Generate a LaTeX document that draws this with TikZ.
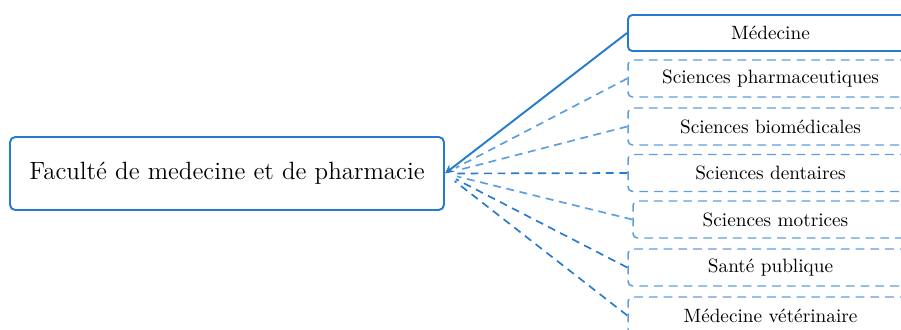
\documentclass[tikz,border=0pt]{standalone}
\usepackage{tikz}
\usetikzlibrary{arrows.meta}
\definecolor{lineBlue}{RGB}{38,124,204}
\definecolor{dashBlue}{RGB}{92,158,222}
\newcommand{\bigtxt}{\fontsize{14.2}{16}\selectfont}
\newcommand{\smalltxt}{\fontsize{10.95}{12}\selectfont}
\tikzset{
  mainbox/.style={draw=lineBlue, line width=1.1pt, rounded corners=3pt,
    minimum width=8.68cm, minimum height=1.46cm, inner sep=0pt, font=\bigtxt},
  solidbox/.style={draw=lineBlue, line width=1.1pt, rounded corners=2.5pt,
    minimum width=5.7cm, minimum height=0.72cm, inner sep=0pt, font=\smalltxt},
  dashbox/.style={draw=dashBlue, line width=0.85pt, rounded corners=2.5pt,
    dash pattern=on 5pt off 3.4pt,
    minimum width=5.7cm, minimum height=0.74cm, inner sep=0pt, font=\smalltxt},
  dashlink/.style={dashBlue, line width=0.95pt, dash pattern=on 4.5pt off 3.2pt, shorten >=7pt},
  darklink/.style={lineBlue, line width=0.95pt, dash pattern=on 4.5pt off 3.2pt, shorten >=7pt}
}

\begin{document}
\begin{tikzpicture}

\useasboundingbox (0,0) rectangle (18.02,6.58);
\clip (0,0) rectangle (18.02,6.58);

\node[mainbox] (fac) at (4.54,3.11) {Facult\'e de medecine et de pharmacie};

\node[solidbox] (med) at (15.41,5.92) {M\'edecine};
\node[dashbox] (pharma) at (15.41,5.01) {Sciences pharmaceutiques};
\node[dashbox] (biomed) at (15.41,4.05) {Sciences biom\'edicales};
\node[dashbox] (dent) at (15.41,3.12) {Sciences dentaires};
\node[dashbox] (motr) at (15.51,2.19) {Sciences motrices};
\node[dashbox] (sante) at (15.41,1.23) {Sant\'e publique};
\node[dashbox] (veto) at (15.41,0.27) {M\'edecine v\'et\'erinaire};

\draw[-{Stealth[length=5pt,width=5pt]},lineBlue,line width=1.1pt] (med.west) -- (fac.east);

\draw[dashlink] (pharma.west) -- (fac.east);
\draw[dashlink] (biomed.west) -- (fac.east);
\draw[darklink] (dent.west) -- (fac.east);
\draw[dashlink] (motr.west) -- (fac.east);
\draw[darklink] (sante.west) -- (fac.east);
\draw[darklink] (veto.west) -- (fac.east);

\end{tikzpicture}
\end{document}
